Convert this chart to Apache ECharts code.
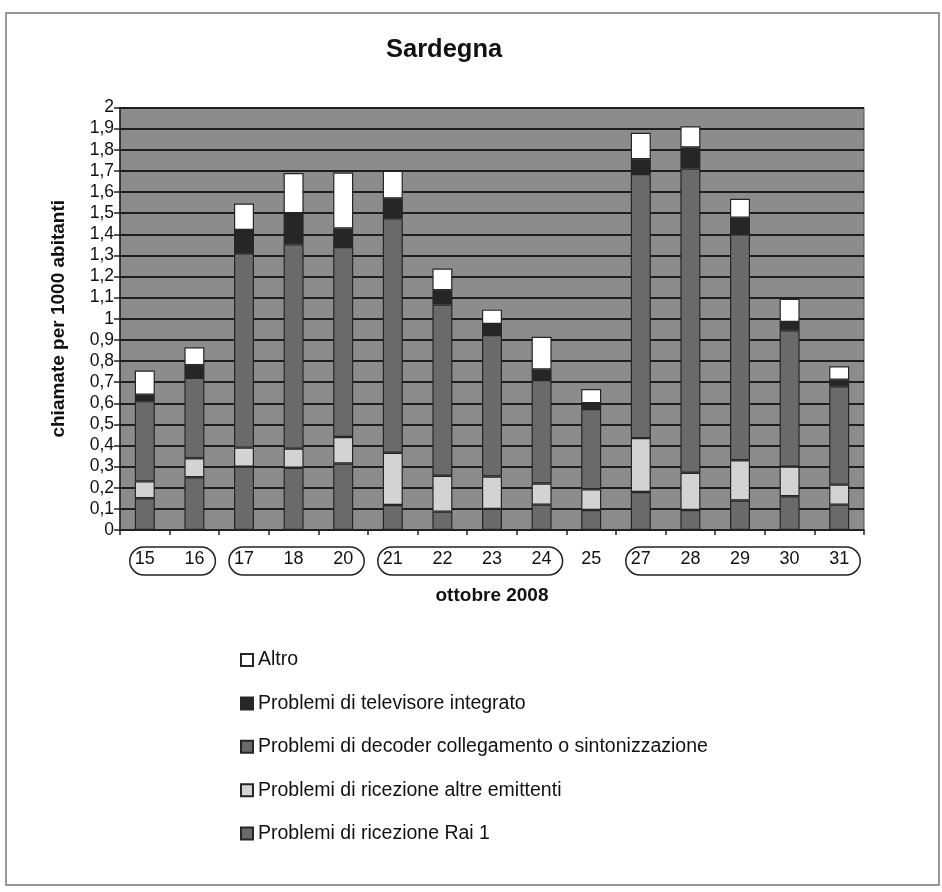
<!DOCTYPE html>
<html>
<head>
<meta charset="utf-8">
<script src="https://cdn.jsdelivr.net/npm/echarts@6/dist/echarts.min.js"></script>
<style>
html,body{margin:0;padding:0;background:#fff;}
#chart{width:942px;height:892px;}
</style>
</head>
<body>
<div id="chart"></div>
<script>
var categories = ['15','16','17','18','20','21','22','23','24','25','27','28','29','30','31'];
var rai1     = [0.15, 0.25, 0.30, 0.295, 0.315, 0.118, 0.087, 0.10, 0.12, 0.095, 0.18, 0.095, 0.14, 0.16, 0.12];
var altre    = [0.08, 0.09, 0.09, 0.09, 0.125, 0.248, 0.17, 0.153, 0.10, 0.098, 0.255, 0.176, 0.19, 0.14, 0.095];
var decoder  = [0.38, 0.38, 0.92, 0.967, 0.90, 1.11, 0.81, 0.67, 0.49, 0.38, 1.25, 1.44, 1.07, 0.645, 0.465];
var tv       = [0.03, 0.06, 0.11, 0.148, 0.087, 0.094, 0.068, 0.052, 0.05, 0.027, 0.07, 0.10, 0.078, 0.04, 0.032];
var altro    = [0.115, 0.085, 0.125, 0.19, 0.265, 0.13, 0.103, 0.068, 0.155, 0.067, 0.125, 0.10, 0.09, 0.11, 0.063];
var seriesNames = ['Problemi di ricezione Rai 1', 'Problemi di ricezione altre emittenti', 'Problemi di decoder collegamento o sintonizzazione', 'Problemi di televisore integrato', 'Altro'];
var legendOrder = ['Altro', 'Problemi di televisore integrato', 'Problemi di decoder collegamento o sintonizzazione', 'Problemi di ricezione altre emittenti', 'Problemi di ricezione Rai 1'];
var groups = [[0,1],[2,4],[5,8],[10,14]];

var FONT = 'Liberation Sans, Arial, sans-serif';
var colors = ['#6a6a6a', '#d3d3d3', '#6a6a6a', '#262626', '#ffffff'];
var values = [rai1, altre, decoder, tv, altro];

var chart = echarts.init(document.getElementById('chart'), null, {renderer:'canvas'});

var series = seriesNames.map(function(name, i){
  return {
    name: name, type: 'bar', stack: 'tot', data: values[i],
    barWidth: 20,
    itemStyle: {color: colors[i], borderColor: '#262626', borderWidth: 1.2},
    emphasis: {disabled: true}
  };
});

chart.setOption({
  animation: false,
  title: {text: 'Sardegna', left: 381, top: 32, padding: 5,
    textStyle: {fontFamily: FONT, fontSize: 25.5, fontWeight: 'bold', color: '#111'}},
  grid: {left: 120, right: 78, top: 107.5, bottom: 362, show: true,
    backgroundColor: '#8c8c8c', borderColor: '#555', borderWidth: 1},
  legend: {
    data: legendOrder, orient: 'vertical', left: 235, top: 645,
    itemWidth: 12, itemHeight: 12, itemGap: 23.4,
    textStyle: {fontFamily: FONT, fontSize: 19.5, color: '#111'},
    icon: 'rect', selectedMode: false
  },
  xAxis: {
    type: 'category', data: categories,
    name: 'ottobre 2008', nameLocation: 'middle', nameGap: 56,
    nameTextStyle: {fontFamily: FONT, fontSize: 19, fontWeight: 'bold', color: '#111'},
    axisLine: {lineStyle: {color: '#222', width: 1.5}},
    axisTick: {show: true, length: 5, lineStyle: {color: '#222', width: 1.5}},
    axisLabel: {fontFamily: FONT, fontSize: 18, color: '#111', margin: 20}
  },
  yAxis: {
    type: 'value', min: 0, max: 2, interval: 0.1,
    name: 'chiamate per 1000 abitanti', nameLocation: 'middle', nameGap: 52,
    nameTextStyle: {fontFamily: FONT, fontSize: 19, fontWeight: 'bold', color: '#111'},
    axisLine: {show: true, lineStyle: {color: '#222', width: 1.5}},
    axisTick: {show: true, length: 6, lineStyle: {color: '#222', width: 1.5}},
    splitLine: {show: true, lineStyle: {color: '#1e1e1e', width: 2}},
    axisLabel: {fontFamily: FONT, fontSize: 17.5, color: '#111', margin: 6,
      formatter: function(v){ return (Math.round(v*10)/10).toString().replace('.', ','); }}
  },
  series: series
});

function drawOvals(){
  var gr = [{type:'rect', shape:{x:6, y:13, width:933, height:872}, style:{fill:'none', stroke:'#777', lineWidth:1.5}, silent:true, z:0}];
  var y0 = chart.convertToPixel({gridIndex:0}, [0, 0])[1];
  groups.forEach(function(g){
    var xa = chart.convertToPixel({xAxisIndex:0}, categories[g[0]]);
    var xb = chart.convertToPixel({xAxisIndex:0}, categories[g[1]]);
    gr.push({type:'rect', shape:{x: xa-15, y: y0+17, width: (xb+21)-(xa-15), height: 28, r: 14},
      style:{fill:'none', stroke:'#222', lineWidth:1.5}, silent:true, z:10});
  });
  chart.setOption({graphic: gr});
}
drawOvals();
</script>
</body>
</html>
